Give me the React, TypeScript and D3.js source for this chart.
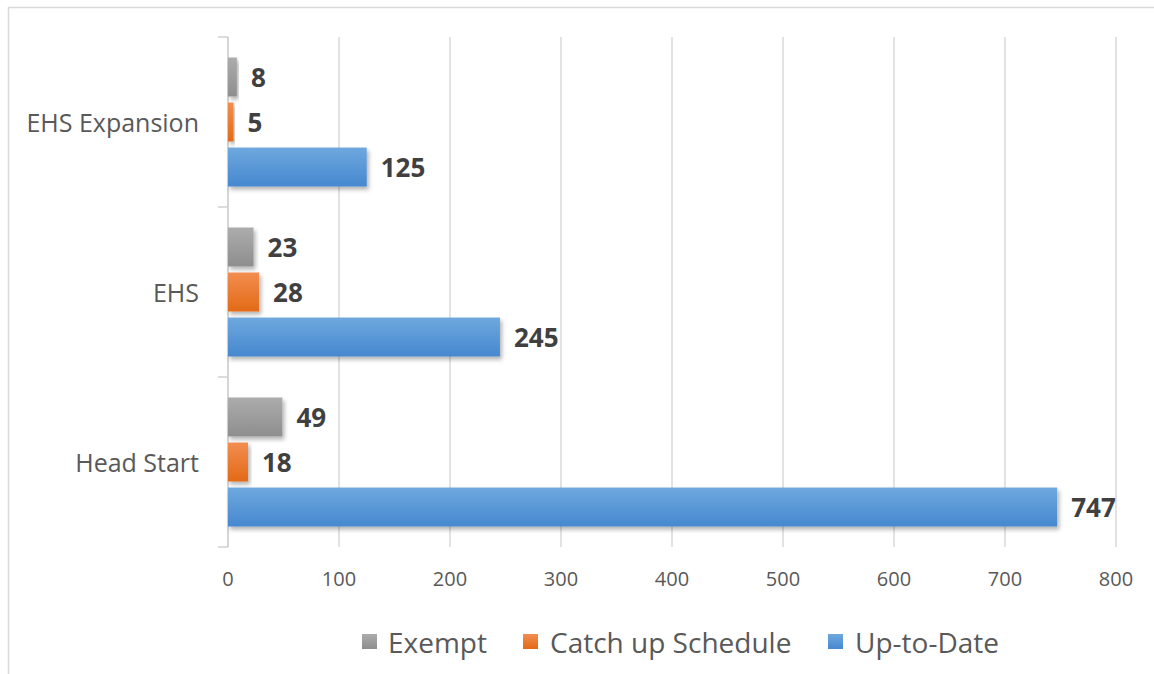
import React from "react";
import * as d3 from "d3";

const categories = ["EHS Expansion", "EHS", "Head Start"];
const seriesNames = ["Exempt", "Catch up Schedule", "Up-to-Date"];
const exemptValues = [8, 23, 49];
const catchUpValues = [5, 28, 18];
const upToDateValues = [125, 245, 747];
const xTicks = [0, 100, 200, 300, 400, 500, 600, 700, 800];

const seriesValues = [exemptValues, catchUpValues, upToDateValues];
const seriesColors = [
  { top: "#acacac", bottom: "#8e8e8e", flat: "#a5a5a5" },
  { top: "#f28d4f", bottom: "#e36a17", flat: "#ed7d31" },
  { top: "#6ea8de", bottom: "#4688cf", flat: "#5b9bd5" },
];

const W = 1154;
const H = 674;

export default function App() {
  const x = d3.scaleLinear().domain([0, 800]).range([228, 1116]);
  const y = d3.scaleBand<string>().domain(categories).range([37, 547]).padding(0);
  const inner = d3
    .scaleBand<number>()
    .domain([0, 1, 2])
    .range([20.5, 149.5])
    .paddingInner(0.135)
    .paddingOuter(0);

  const font = "'Open Sans', sans-serif";

  const legendItems = [
    { sq: 362, tx: 388 },
    { sq: 523, tx: 550 },
    { sq: 828, tx: 855 },
  ];

  return (
    <svg
      width={W}
      height={H}
      style={{ position: "absolute", left: 0, top: 0, background: "#fff" }}
      fontFamily={font}
    >
      <defs>
        {seriesColors.map((c, i) => (
          <linearGradient key={i} id={`g${i}`} x1="0" y1="0" x2="0" y2="1">
            <stop offset="0%" stopColor={c.top} />
            <stop offset="100%" stopColor={c.bottom} />
          </linearGradient>
        ))}
        <filter id="shadow" x="-10%" y="-20%" width="130%" height="160%">
          <feDropShadow dx="2" dy="3" stdDeviation="2" floodColor="#000" floodOpacity="0.3" />
        </filter>
      </defs>

      {/* frame */}
      <line x1={8} y1={7.5} x2={W} y2={7.5} stroke="#d9d9d9" strokeWidth={1.5} />
      <line x1={8.5} y1={7} x2={8.5} y2={H} stroke="#d9d9d9" strokeWidth={1.5} />

      {/* gridlines */}
      {xTicks.map((t) => (
        <line
          key={t}
          x1={x(t)}
          x2={x(t)}
          y1={37}
          y2={547}
          stroke="#d9d9d9"
          strokeWidth={1.5}
        />
      ))}

      {/* category axis */}
      <line x1={228} x2={228} y1={37} y2={547} stroke="#d0d0d0" strokeWidth={1.5} />
      {[...categories.map((c) => y(c) as number), 547].map((v, i) => (
        <line key={i} x1={218} x2={228} y1={v} y2={v} stroke="#d0d0d0" strokeWidth={1.5} />
      ))}
      {categories.map((c) => (
        <text
          key={c}
          x={199}
          y={(y(c) as number) + y.bandwidth() / 2}
          textAnchor="end"
          dominantBaseline="central"
          fontSize={25}
          fill="#595959"
        >
          {c}
        </text>
      ))}

      {/* x tick labels */}
      {xTicks.map((t) => (
        <text
          key={t}
          x={x(t)}
          y={578}
          textAnchor="middle"
          dominantBaseline="central"
          fontSize={20}
          fill="#595959"
        >
          {t}
        </text>
      ))}

      {/* bars */}
      {categories.map((c, ci) =>
        seriesValues.map((vals, si) => {
          const yy = (y(c) as number) + (inner(si) as number);
          const h = inner.bandwidth();
          const v = vals[ci];
          return (
            <g key={`${ci}-${si}`}>
              <rect
                x={x(0)}
                y={yy}
                width={x(v) - x(0)}
                height={h}
                fill={`url(#g${si})`}
                filter="url(#shadow)"
              />
              <text
                x={x(v) + 14}
                y={yy + h / 2}
                dominantBaseline="central"
                fontSize={26}
                fontWeight="bold"
                fill="#404040"
              >
                {v}
              </text>
            </g>
          );
        })
      )}

      {/* legend */}
      {seriesNames.map((n, i) => (
        <g key={n}>
          <rect
            x={legendItems[i].sq}
            y={634}
            width={15}
            height={15}
            fill={`url(#g${i})`}
          />
          <text
            x={legendItems[i].tx}
            y={642}
            dominantBaseline="central"
            fontSize={28}
            fill="#595959"
          >
            {n}
          </text>
        </g>
      ))}
    </svg>
  );
}
